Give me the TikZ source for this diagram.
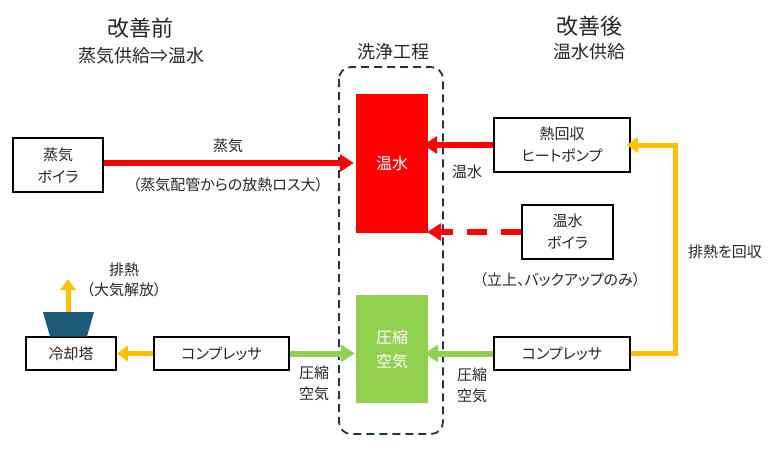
\documentclass[tikz,border=0pt]{standalone}
\usepackage{fontspec}
\setmainfont[RawFeature=+palt]{Noto Sans CJK JP}
\usetikzlibrary{arrows.meta}
\definecolor{cred}{HTML}{FF0000}
\definecolor{cgreen}{HTML}{92D050}
\definecolor{cyel}{HTML}{FFC000}
\definecolor{cteal}{HTML}{1B5A78}
\definecolor{cdash}{HTML}{1F3445}
\definecolor{ctext}{HTML}{262626}
\tikzset{
  box/.style={draw=black,line width=1.6pt,fill=white,align=center,text=ctext,font=\fontsize{15}{22}\selectfont,inner sep=0pt},
  proc/.style={align=center,text=white,font=\fontsize{16}{24}\selectfont,inner sep=0pt},
  lbl/.style={align=center,text=ctext,font=\fontsize{15}{21}\selectfont,inner sep=0pt},
  ttl/.style={text=ctext,font=\fontsize{22}{26}\selectfont,inner sep=0pt},
  sub/.style={text=ctext,font=\fontsize{18}{22}\selectfont,inner sep=0pt},
  fat/.style={line width=6pt,-{Triangle[width=17pt,length=14pt]}},
  thin/.style={line width=5pt,-{Triangle[width=15pt,length=11pt]}}
}
\begin{document}
\begin{tikzpicture}[x=1pt,y=-1pt]
\useasboundingbox (0,0) rectangle (783,451);
% titles
\node[ttl] (t1) at (140,28) {改善前};
\node[sub] (s1) at (141,56) {蒸気供給⇒温水};
\node[ttl] (t2) at (589,26) {改善後};
\node[sub] (s2) at (589,52) {温水供給};
\node[sub] (t3) at (393,52) {洗浄工程};
% process area
\draw[cdash,line width=1.8pt,dash pattern=on 8pt off 5pt,rounded corners=12pt] (339,67) rectangle (443,434);
\node[proc,fill=cred,minimum width=72pt,minimum height=139pt] (hw) at (392,163.5) {温水};
\node[proc,fill=cgreen,minimum width=72pt,minimum height=108pt] (ca) at (392,349) {圧縮\\空気};
% boxes
\node[box,minimum width=90pt,minimum height=54pt] (sb) at (58,165) {蒸気\\ボイラ};
\node[box,minimum width=136pt,minimum height=54pt] (hp) at (562,145) {熱回収\\ヒートポンプ};
\node[box,minimum width=91pt,minimum height=54pt] (wb) at (567.5,232) {温水\\ボイラ};
\node[box,minimum width=136pt,minimum height=33pt] (cr) at (562,353.5) {コンプレッサ};
\node[box,minimum width=135pt,minimum height=33pt] (cl) at (221.5,353.5) {コンプレッサ};
\node[box,minimum width=90pt,minimum height=33pt] (ct) at (71,353.5) {冷却塔};
% cooling tower
\fill[cteal] (43,312) -- (94,312) -- (87,336.5) -- (50,336.5) -- cycle;
\coordinate (cttop) at (68,312);
\coordinate (ctair) at (68,279);
% arrows
\draw[fat,cred,shorten >=2pt] (sb.east |- 0,163) -- (hw.west |- 0,163);
\draw[fat,cred,shorten >=-5pt] (hp.west) -- (hp.west -| hw.east);
\draw[fat,cred,dash pattern=on 20pt off 14pt,shorten >=-1pt] (wb.west) -- (wb.west -| hw.east);
\draw[fat,cgreen,shorten >=-4pt] (cr.west) -- (cr.west -| ca.east);
\draw[fat,cgreen,shorten >=1pt] (cl.east) -- (cl.east -| ca.west);
\draw[thin,cyel] (cl.west) -- (ct.east);
\draw[thin,cyel] (cttop) -- (ctair);
\coordinate (yc) at (675,353.5);
\draw[thin,cyel,shorten >=-4pt] (cr.east) -- (yc) |- (hp.east);
% labels
\node[lbl] (l1) at (228,146) {蒸気};
\node[lbl] (l2) at (228,185) {（蒸気配管からの放熱ロス大）};
\node[lbl] (l3) at (467,172) {温水};
\node[lbl] (l4) at (560,280) {（立上、バックアップのみ）};
\node[lbl] (l5) at (725,252) {排熱を回収};
\node[lbl] (l6) at (472,385) {圧縮\\空気};
\node[lbl] (l7) at (314,383) {圧縮\\空気};
\node[lbl] (l8) at (124,270) {排熱};
\node[lbl] (l9) at (124,290) {（大気解放）};
\end{tikzpicture}
\end{document}
